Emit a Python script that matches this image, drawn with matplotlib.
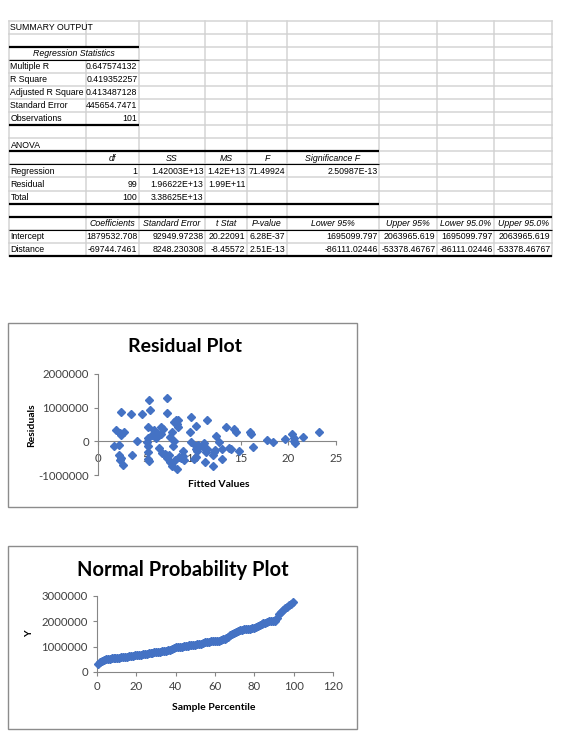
import matplotlib
matplotlib.use('Agg')
import matplotlib.pyplot as plt
import numpy as np
from matplotlib.patches import Rectangle

plt.rcParams['font.family'] = ['Lato', 'DejaVu Sans']

W, H = 566, 745
blue = '#4472C4'
axis_gray = '#868686'
grid_gray = '#D4D4D4'

# ---- summary output table ----
stat_labels = ['Multiple R', 'R Square', 'Adjusted R Square', 'Standard Error', 'Observations']
stat_values = ['0.647574132', '0.419352257', '0.413487128', '445654.7471', '101']

anova_header = ['df', 'SS', 'MS', 'F', 'Significance F']
anova_labels = ['Regression', 'Residual', 'Total']
anova_cells = [
    ['1', '1.42003E+13', '1.42E+13', '71.49924', '2.50987E-13'],
    ['99', '1.96622E+13', '1.99E+11', '', ''],
    ['100', '3.38625E+13', '', '', ''],
]

coef_header = ['Coefficients', 'Standard Error', 't Stat', 'P-value',
               'Lower 95%', 'Upper 95%', 'Lower 95.0%', 'Upper 95.0%']
coef_labels = ['Intercept', 'Distance']
coef_cells = [
    ['1879532.708', '92949.97238', '20.22091', '6.28E-37',
     '1695099.797', '2063965.619', '1695099.797', '2063965.619'],
    ['-69744.7461', '8248.230308', '-8.45572', '2.51E-13',
     '-86111.02446', '-53378.46767', '-86111.02446', '-53378.46767'],
]

# ---- residual plot ----
fitted = [1.7, 1.9, 2.2, 2.2, 2.3, 2.4, 2.45, 2.45, 2.7, 2.65, 3.5, 3.6, 4.1, 4.65,
          5.2, 5.25, 5.35, 5.45, 5.3, 5.25, 5.3, 5.4, 5.7, 5.9, 6.05, 6.2, 6.4, 6.6,
          6.65, 6.75, 6.8, 7.3, 7.3, 7.1, 7.3, 7.45, 7.55, 7.6, 7.75, 7.8, 7.85, 8.0,
          8.1, 8.15, 8.3, 8.35, 8.4, 8.45, 8.7, 8.9, 8.9, 9.0, 9.75, 9.7, 9.8, 10.3,
          10.3, 10.4, 10.1, 10.25, 10.25, 11.1, 11.4, 11.3, 11.5, 11.25, 12.05, 12.15,
          12.1, 12.4, 12.7, 13.05, 13.0, 13.4, 13.75, 14.0, 14.3, 14.5, 14.8, 16.0,
          16.05, 16.3, 17.8, 18.4, 19.6, 20.4, 20.6, 20.6, 20.7, 21.5, 23.2,
          8.0, 6.1, 7.0, 8.5, 5.1, 2.3, 11.0, 12.3, 10.5]
resid = [-150000, 330000, -100000, -420000, -540000, -500000, 860000, 180000, 280000,
         -690000, 810000, -420000, 10000, 820000, 90000, 420000, 1230000, 930000,
         -150000, -320000, -520000, -580000, 180000, 330000, 100000, 240000, -210000,
         430000, 210000, -350000, 360000, 1300000, 850000, -420000, -500000, -400000,
         -620000, 120000, 280000, -720000, -130000, 580000, -550000, 630000, 520000,
         -810000, 620000, 430000, -490000, -430000, -280000, -550000, 730000, 280000,
         -30000, -150000, 470000, -280000, -520000, -220000, -480000, -60000, 630000,
         -320000, -240000, -620000, -420000, -330000, -740000, 160000, -20000, -240000,
         -520000, 430000, -190000, -240000, 370000, 280000, -290000, 280000, 210000,
         -170000, 30000, -20000, 60000, 210000, 100000, 0, -50000, 130000, 270000,
         0, 150000, -380000, -460000, -20000, 240000, -180000, -270000, -100000]

# ---- normal probability plot (sorted Y) ----
y_sorted = [330000, 400000, 450000, 490000, 510000, 520000, 530000, 540000, 550000, 555000,
            560000, 570000, 580000, 590000, 600000, 610000, 620000, 630000, 640000, 655000,
            670000, 680000, 690000, 700000, 720000, 730000, 740000, 750000, 760000, 770000,
            780000, 790000, 800000, 810000, 830000, 840000, 860000, 880000, 910000, 940000,
            970000, 980000, 990000, 1000000, 1010000, 1020000, 1040000, 1050000, 1060000, 1070000,
            1080000, 1090000, 1100000, 1110000, 1140000, 1170000, 1190000, 1200000, 1210000, 1220000,
            1220000, 1230000, 1240000, 1260000, 1290000, 1320000, 1360000, 1400000, 1450000, 1500000,
            1550000, 1590000, 1620000, 1650000, 1670000, 1680000, 1690000, 1700000, 1710000, 1730000,
            1750000, 1780000, 1820000, 1860000, 1890000, 1920000, 1950000, 1980000, 2000000, 2010000,
            2010000, 2020000, 2150000, 2300000, 2380000, 2440000, 2520000, 2580000, 2640000, 2700000,
            2760000]
n = len(y_sorted)
pct = (np.arange(1, n + 1) - 0.5) / n * 100


fig = plt.figure(figsize=(W / 100, H / 100), dpi=100)
fig.patch.set_facecolor('white')


def px_axes(x0, y0, x1, y1):
    return fig.add_axes([x0 / W, 1 - y1 / H, (x1 - x0) / W, (y1 - y0) / H])


bg = fig.add_axes([0, 0, 1, 1])
bg.set_xlim(0, W)
bg.set_ylim(H, 0)
bg.axis('off')

cols = [9, 86, 139, 205, 247, 287, 379, 437, 494, 552]
row_h = 13.08
rows = [20.5 + k * row_h for k in range(19)]
tfont = dict(family=['Liberation Sans Narrow', 'Liberation Sans', 'DejaVu Sans'], fontsize=6.3, color='black')

# grid lines
for y in rows:
    bg.plot([cols[0], cols[-1]], [y, y], color=grid_gray, lw=1.1, zorder=1)
hidden = {(2, 1)}
for r in range(18):
    for c, x in enumerate(cols):
        if (r, c) in hidden:
            continue
        bg.plot([x, x], [rows[r], rows[r + 1]], color=grid_gray, lw=1.1, zorder=1)

# black borders
def hline(k, c1, lw):
    bg.plot([cols[0], cols[c1]], [rows[k], rows[k]], color='black', lw=lw, zorder=2,
            solid_capstyle='butt')

hline(2, 2, 1.6); hline(3, 2, 0.8); hline(8, 2, 1.6)
hline(10, 6, 1.6); hline(11, 6, 0.8); hline(14, 6, 1.6)
hline(15, 9, 1.6); hline(16, 9, 0.8); hline(18, 9, 1.6)


def cell_text(r, c, s, align='left', italic=False):
    yc = (rows[r] + rows[r + 1]) / 2 + 0.3
    if align == 'left':
        x, ha = cols[c] + 1.5, 'left'
    elif align == 'right':
        x, ha = cols[c + 1] - 1.5, 'right'
    else:
        x, ha = (cols[c] + cols[c + 1]) / 2, 'center'
    bg.text(x, yc, s, ha=ha, va='center', style='italic' if italic else 'normal',
            zorder=3, **tfont)


cell_text(0, 0, 'SUMMARY OUTPUT')
bg.text((cols[0] + cols[2]) / 2, (rows[2] + rows[3]) / 2 + 0.3, 'Regression Statistics',
        ha='center', va='center', style='italic', **tfont)
for i, (lab, val) in enumerate(zip(stat_labels, stat_values)):
    cell_text(3 + i, 0, lab)
    cell_text(3 + i, 1, val, 'right')

cell_text(9, 0, 'ANOVA')
for j, h in enumerate(anova_header):
    cell_text(10, 1 + j, h, 'center', italic=True)
for i, lab in enumerate(anova_labels):
    cell_text(11 + i, 0, lab)
    for j, val in enumerate(anova_cells[i]):
        if val:
            cell_text(11 + i, 1 + j, val, 'right')

for j, h in enumerate(coef_header):
    cell_text(15, 1 + j, h, 'center', italic=True)
for i, lab in enumerate(coef_labels):
    cell_text(16 + i, 0, lab)
    for j, val in enumerate(coef_cells[i]):
        cell_text(16 + i, 1 + j, val, 'right')

# chart frames
for (x0, y0, x1, y1) in [(8, 323, 357, 507), (8, 546, 357, 729)]:
    bg.add_patch(Rectangle((x0, y0), x1 - x0, y1 - y0, fill=False, ec='#8C8C8C', lw=1.0))


def style_axes(ax, xpad):
    ax.set_facecolor('none')
    for s in ['top', 'right']:
        ax.spines[s].set_visible(False)
    for s in ['left', 'bottom']:
        ax.spines[s].set_color(axis_gray)
        ax.spines[s].set_linewidth(0.8)
    ax.spines['bottom'].set_position(('data', 0))
    ax.tick_params(direction='out', length=3, width=0.8, color=axis_gray,
                   labelsize=8.2, labelcolor='#404040')
    ax.tick_params(axis='x', pad=xpad)
    ax.yaxis.set_major_formatter(matplotlib.ticker.FuncFormatter(lambda v, p: '%d' % v))


# residual plot
ax1 = px_axes(98, 374, 336, 475)
ax1.plot(fitted, resid, ls='none', marker='D', ms=4, color=blue, mec=blue, zorder=3, clip_on=False)
ax1.set_xlim(0, 25)
ax1.set_ylim(-1000000, 2000000)
ax1.set_xticks([0, 5, 10, 15, 20, 25])
ax1.set_yticks([-1000000, 0, 1000000, 2000000])
style_axes(ax1, 5.5)

fig.text(185 / W, 1 - 346 / H, 'Residual Plot', ha='center', va='center',
         fontsize=14, fontweight='bold')
fig.text(32 / W, 1 - 425 / H, 'Residuals', ha='center', va='center', rotation=90,
         fontsize=7.5, fontweight='bold')
fig.text(219 / W, 1 - 485 / H, 'Fitted Values', ha='center', va='center',
         fontsize=7.5, fontweight='bold')

# normal probability plot
ax2 = px_axes(97, 596, 333, 672)
ax2.plot(pct, y_sorted, ls='none', marker='D', ms=4, color=blue, mec=blue, zorder=3, clip_on=False)
ax2.set_xlim(0, 120)
ax2.set_ylim(0, 3000000)
ax2.set_xticks([0, 20, 40, 60, 80, 100, 120])
ax2.set_yticks([0, 1000000, 2000000, 3000000])
style_axes(ax2, 3.5)

fig.text(183 / W, 1 - 570 / H, 'Normal Probability Plot', ha='center', va='center',
         fontsize=14.5, fontweight='bold')
fig.text(30 / W, 1 - 634 / H, 'Y', ha='center', va='center', rotation=90,
         fontsize=7.5, fontweight='bold')
fig.text(214 / W, 1 - 707 / H, 'Sample Percentile', ha='center', va='center',
         fontsize=7.5, fontweight='bold')

fig.savefig('out.png', dpi=100, facecolor='white')
